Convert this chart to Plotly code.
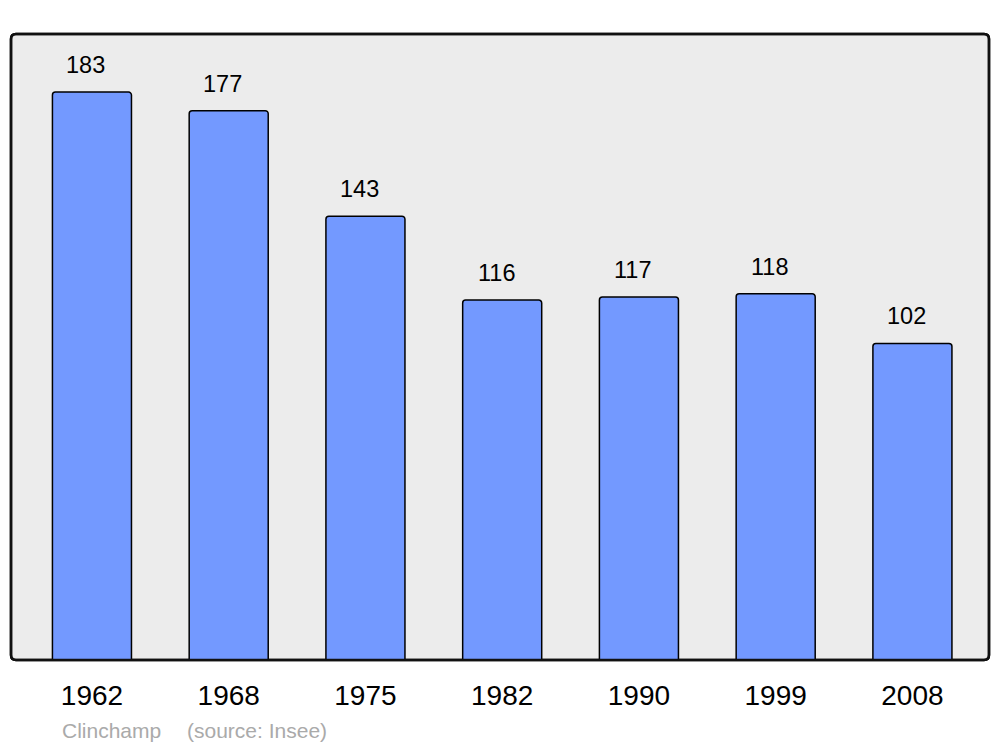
import plotly.graph_objects as go

years = ["1962", "1968", "1975", "1982", "1990", "1999", "2008"]
population = [183, 177, 143, 116, 117, 118, 102]
commune = "Clinchamp"
source = "(source: Insee)"

# page body has an 8px margin; design in page coordinates then offset
OFF = 8
W, H = 1000 - OFF, 747 - OFF
L, T = 11 - OFF, 34 - OFF
pw, ph = 978, 626
R, B = W - L - pw, H - T - ph

fig = go.Figure()
fig.add_trace(go.Bar(
    x=list(range(len(years))), y=population,
    width=0.578,
    marker=dict(color="#7399FF", line=dict(color="#000000", width=1.5), cornerradius=3),
    hoverinfo="skip",
))

for i, v in enumerate(population):
    fig.add_annotation(x=i, y=v, text=str(v), showarrow=False, xanchor="center",
                       yanchor="bottom", yshift=12, xshift=-6,
                       font=dict(size=23.5, color="#000000", family="Liberation Sans, Arial, sans-serif"))

# rounded frame
rx, ry = 5 / pw, 5 / ph
path = (f"M {rx},0 L {1-rx},0 Q 1,0 1,{ry} L 1,{1-ry} Q 1,1 {1-rx},1 "
        f"L {rx},1 Q 0,1 0,{1-ry} L 0,{ry} Q 0,0 {rx},0 Z")
fig.add_shape(type="path", path=path, xref="paper", yref="paper",
              fillcolor="#ECECEC", line=dict(color="#111111", width=2.5), layer="below")
fig.add_shape(type="path", path=path, xref="paper", yref="paper",
              fillcolor="rgba(0,0,0,0)", line=dict(color="#111111", width=2.5), layer="above")

foot_y = -(730 - 34 - ph) / ph
fig.add_annotation(x=(60 - 11) / pw, y=foot_y, xref="paper", yref="paper",
                   text=commune, showarrow=False, xanchor="left", yanchor="middle",
                   font=dict(size=21, color="#AAAAAA", family="Liberation Sans, Arial, sans-serif"))
fig.add_annotation(x=(185 - 11) / pw, y=foot_y, xref="paper", yref="paper",
                   text=source, showarrow=False, xanchor="left", yanchor="middle",
                   font=dict(size=21, color="#AAAAAA", family="Liberation Sans, Arial, sans-serif"))

fig.update_layout(
    width=W, height=H,
    margin=dict(l=L, r=R, t=T, b=B),
    paper_bgcolor="#FFFFFF", plot_bgcolor="rgba(0,0,0,0)",
    showlegend=False,
    font=dict(family="Liberation Sans, Arial, sans-serif", color="#000000"),
    xaxis=dict(range=[-0.592, 6.56], tickmode="array", tickvals=list(range(len(years))),
               ticktext=years, showgrid=False, zeroline=False, showline=False,
               ticks="", tickfont=dict(size=28), ticklabelstandoff=16, fixedrange=True),
    yaxis=dict(range=[0, 201.7], showgrid=False, zeroline=False, showline=False,
               showticklabels=False, ticks="", fixedrange=True),
)

fig.write_html("out.html", config={"displayModeBar": False})
